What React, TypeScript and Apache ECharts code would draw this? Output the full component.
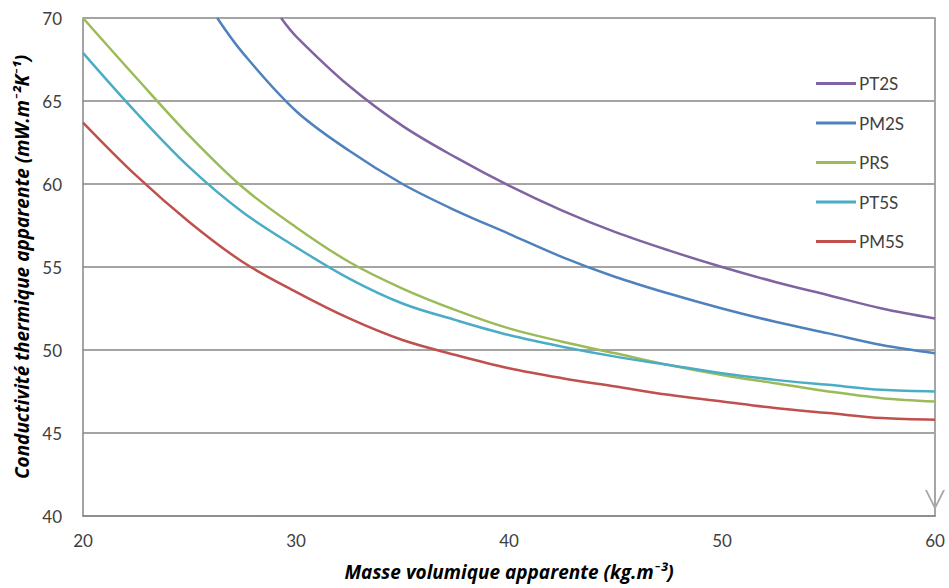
import React, { useEffect, useRef } from "react";
import * as echarts from "echarts";

const SERIES_NAMES = ["PT2S", "PM2S", "PRS", "PT5S", "PM5S"];
const COLORS = ["#8064A2", "#4F81BD", "#9BBB59", "#4BACC6", "#C0504D"];

const PT2S_X = [29.3, 30, 32.5, 35, 37.5, 40, 42.5, 45, 47.5, 50, 52.5, 55, 57.5, 60];
const PT2S_Y = [70, 68.9, 65.9, 63.5, 61.6, 59.9, 58.4, 57.1, 56.0, 55.0, 54.1, 53.3, 52.5, 51.9];

const PM2S_X = [26.3, 27.5, 30, 32.5, 35, 37.5, 40, 42.5, 45, 47.5, 50, 52.5, 55, 57.5, 60];
const PM2S_Y = [70, 67.9, 64.4, 62.0, 60.0, 58.4, 57.0, 55.6, 54.4, 53.4, 52.5, 51.7, 51.0, 50.3, 49.8];

const COMMON_X = [20, 22.5, 25, 27.5, 30, 32.5, 35, 37.5, 40, 42.5, 45, 47.5, 50, 52.5, 55, 57.5, 60];
const PRS_Y = [70, 66.4, 62.9, 59.8, 57.4, 55.3, 53.7, 52.4, 51.3, 50.5, 49.8, 49.1, 48.5, 48.0, 47.5, 47.1, 46.9];
const PT5S_Y = [67.9, 64.3, 61.0, 58.3, 56.2, 54.3, 52.8, 51.8, 50.9, 50.2, 49.6, 49.1, 48.6, 48.2, 47.9, 47.6, 47.5];
const PM5S_Y = [63.7, 60.5, 57.7, 55.3, 53.5, 51.9, 50.6, 49.7, 48.9, 48.3, 47.8, 47.3, 46.9, 46.5, 46.2, 45.9, 45.8];

const X_MIN = 20;
const X_MAX = 60;
const X_STEP = 10;
const Y_MIN = 40;
const Y_MAX = 70;
const Y_STEP = 5;

const X_NAME = "Masse volumique apparente (kg.m⁻³)";
const Y_NAME = "Conductivité thermique apparente (mW.m⁻²K⁻¹)";

const FONT = "Lato, 'Open Sans', sans-serif";
const NAME_FONT = "'Open Sans', Lato, sans-serif";

function pairs(xs: number[], ys: number[]) {
  return xs.map((x, i) => [x, ys[i]]);
}

export default function App() {
  const ref = useRef<HTMLDivElement>(null);
  useEffect(() => {
    if (!ref.current) return;
    const chart = echarts.init(ref.current, undefined, { renderer: "svg" });
    const seriesData = [
      pairs(PT2S_X, PT2S_Y),
      pairs(PM2S_X, PM2S_Y),
      pairs(COMMON_X, PRS_Y),
      pairs(COMMON_X, PT5S_Y),
      pairs(COMMON_X, PM5S_Y),
    ];
    chart.setOption({
      animation: false,
      backgroundColor: "#ffffff",
      textStyle: { fontFamily: FONT },
      grid: { left: 83, right: 14, top: 18, bottom: 72, containLabel: false },
      legend: {
        orient: "vertical",
        left: 816,
        top: 75,
        icon: "rect",
        itemWidth: 40,
        itemHeight: 3,
        itemGap: 22.5,
        padding: 0,
        textStyle: { fontSize: 17, color: "#404040", fontFamily: FONT, padding: [0, 0, 0, -2] },
        data: SERIES_NAMES,
      },
      xAxis: {
        type: "value",
        min: X_MIN,
        max: X_MAX,
        interval: X_STEP,
        name: X_NAME,
        nameLocation: "middle",
        nameGap: 46,
        nameTextStyle: { fontSize: 19, fontWeight: "bold", fontStyle: "italic", color: "#000000", fontFamily: NAME_FONT },
        axisLine: { show: true, lineStyle: { color: "#868686", width: 1.5 } },
        axisTick: { show: false },
        splitLine: { show: false },
        axisLabel: { fontSize: 17, color: "#404040", margin: 16, fontFamily: FONT },
      },
      yAxis: [
        {
          type: "value",
          min: Y_MIN,
          max: Y_MAX,
          interval: Y_STEP,
          name: Y_NAME,
          nameLocation: "middle",
          nameGap: 49,
          nameTextStyle: { fontSize: 19, fontWeight: "bold", fontStyle: "italic", color: "#000000", fontFamily: NAME_FONT },
          axisLine: { show: true, lineStyle: { color: "#868686", width: 1.5 } },
          axisTick: { show: false },
          splitLine: { show: true, lineStyle: { color: "#868686", width: 1.5 } },
          axisLabel: { fontSize: 17, color: "#404040", margin: 21, fontFamily: FONT },
        },
        {
          type: "value",
          position: "right",
          min: Y_MIN,
          max: Y_MAX,
          interval: Y_STEP,
          axisLine: {
            show: true,
            lineStyle: { color: "#A6A6A6", width: 2 },
            symbol: ["path://M0,10 L5,0 L10,10 L9,10 L5,2 L1,10 Z", "none"],
            symbolSize: [22, 20],
            symbolOffset: [16, 0],
          },
          axisTick: { show: false },
          axisLabel: { show: false },
          splitLine: { show: false },
        },
      ],
      series: SERIES_NAMES.map((name, i) => ({
        name,
        type: "line",
        data: seriesData[i],
        smooth: 0.35,
        showSymbol: false,
        symbol: "none",
        lineStyle: { color: COLORS[i], width: 2.5 },
        itemStyle: { color: COLORS[i] },
        clip: true,
      })),
    });
    return () => chart.dispose();
  }, []);
  return <div ref={ref} style={{ width: 949, height: 588, position: "absolute", left: 0, top: 0 }} />;
}
